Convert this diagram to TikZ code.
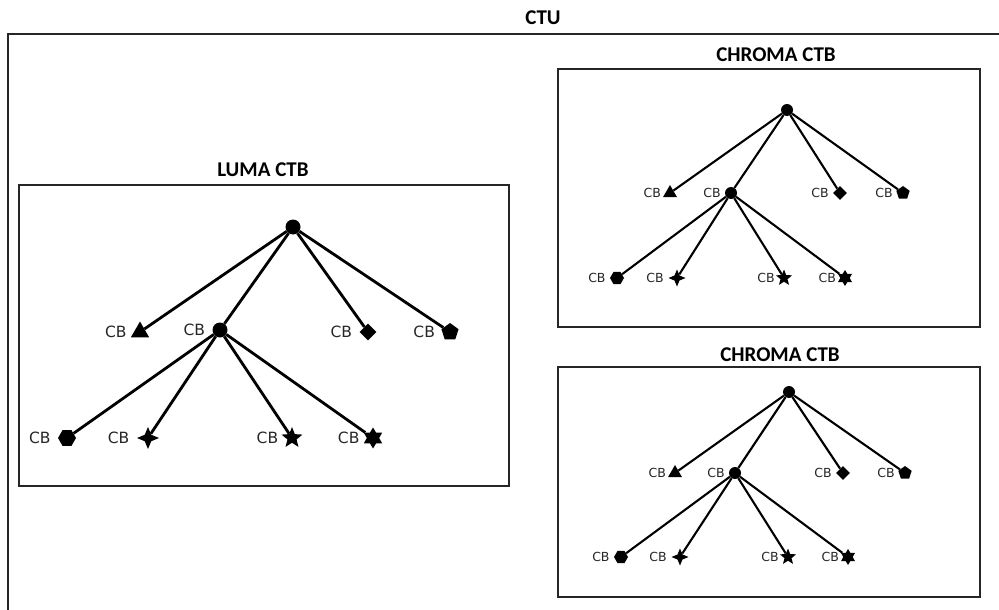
\documentclass[tikz,border=0pt]{standalone}
\usepackage{fontspec}
\setmainfont{Carlito}
\newfontfamily\cbfont{DejaVu Sans}
\usetikzlibrary{shapes.geometric}

\begin{document}
\begin{tikzpicture}[x=1pt,y=-1pt,
  frame/.style={draw=black!85, line width=1.3pt},
  ttl/.style={font=\fontsize{21}{21}\selectfont\bfseries, inner sep=0pt},
  mk/.style={fill=black, draw=none, inner sep=0pt, minimum size=#1},
  mroot/.style={mk=#1, circle},
  mtri/.style={mk=#1, regular polygon, regular polygon sides=3},
  mdia/.style={mk=#1, diamond},
  mpent/.style={mk=#1, regular polygon, regular polygon sides=5},
  mhex/.style={mk=#1, regular polygon, regular polygon sides=6},
  mstarA/.style={mk=#1, star, star points=4, star point ratio=2.4},
  mstarB/.style={mk=#1, star, star points=5, star point ratio=2.3},
  mstarC/.style={mk=#1, star, star points=6, star point ratio=1.7},
  cbL/.style={label={[font=\cbfont\fontsize{15.5}{15.5}\selectfont, text=black!85, inner sep=0pt, label distance=7pt]left:CB}},
  cbS/.style={label={[font=\cbfont\fontsize{12.5}{12.5}\selectfont, text=black!85, inner sep=0pt, label distance=4pt]left:CB}},
  linkL/.style={line width=2.8pt},
  linkS/.style={line width=2.1pt},
]
\useasboundingbox (0,0) rectangle (999,610);

% outer CTU frame (runs off the right and bottom edges)
\node[ttl] (ctu) at (543,18) {CTU};
\draw[frame] (8,610) -- (8,34) -- (999,34);

% ---------- luma CTB ----------
\node[ttl] (lumaT) at (263,170) {LUMA CTB};
\draw[frame] (19,185) rectangle (509,486);
\node[mroot=15] (L0) at (293,227) {};
\node[mtri=21, cbL] (L1) at (140,332) {};
\node[mroot=15, cbL] (L2) at (220,330) {};
\node[mdia=17, cbL] (L3) at (368,332) {};
\node[mpent=18, cbL] (L4) at (450,332) {};
\node[mhex=18, cbL] (L5) at (67,438) {};
\node[mstarA=22, cbL] (L6) at (148,438) {};
\node[mstarB=22, cbL] (L7) at (292,438) {};
\node[mstarC=21, cbL] (L8) at (373,438) {};
\foreach \c in {L1,L2,L3,L4} \draw[linkL] (L0) -- (\c);
\foreach \c in {L5,L6,L7,L8} \draw[linkL] (L2) -- (\c);

% ---------- chroma CTB (upper) ----------
\node[ttl] (chrATitle) at (776,55) {CHROMA CTB};
\draw[frame] (558,69) rectangle (980,327);
\node[mroot=12] (A0) at (787,110) {};
\node[mtri=16, cbS] (A1) at (670,193) {};
\node[mroot=12, cbS] (A2) at (731,193) {};
\node[mdia=14, cbS] (A3) at (840,193) {};
\node[mpent=14, cbS] (A4) at (903,193) {};
\node[mhex=14, cbS] (A5) at (617,278) {};
\node[mstarA=17, cbS] (A6) at (677,278) {};
\node[mstarB=17, cbS] (A7) at (784,278) {};
\node[mstarC=16, cbS] (A8) at (845,278) {};
\foreach \c in {A1,A2,A3,A4} \draw[linkS] (A0) -- (\c);
\foreach \c in {A5,A6,A7,A8} \draw[linkS] (A2) -- (\c);

% ---------- chroma CTB (lower) ----------
\node[ttl] (chrBTitle) at (780,355) {CHROMA CTB};
\draw[frame] (558,367) rectangle (980,597);
\node[mroot=12] (B0) at (789,392) {};
\node[mtri=16, cbS] (B1) at (675,473) {};
\node[mroot=12, cbS] (B2) at (735,473) {};
\node[mdia=14, cbS] (B3) at (843,473) {};
\node[mpent=14, cbS] (B4) at (905,473) {};
\node[mhex=14, cbS] (B5) at (621,557) {};
\node[mstarA=17, cbS] (B6) at (680,557) {};
\node[mstarB=17, cbS] (B7) at (788,557) {};
\node[mstarC=16, cbS] (B8) at (848,557) {};
\foreach \c in {B1,B2,B3,B4} \draw[linkS] (B0) -- (\c);
\foreach \c in {B5,B6,B7,B8} \draw[linkS] (B2) -- (\c);
\end{tikzpicture}
\end{document}
